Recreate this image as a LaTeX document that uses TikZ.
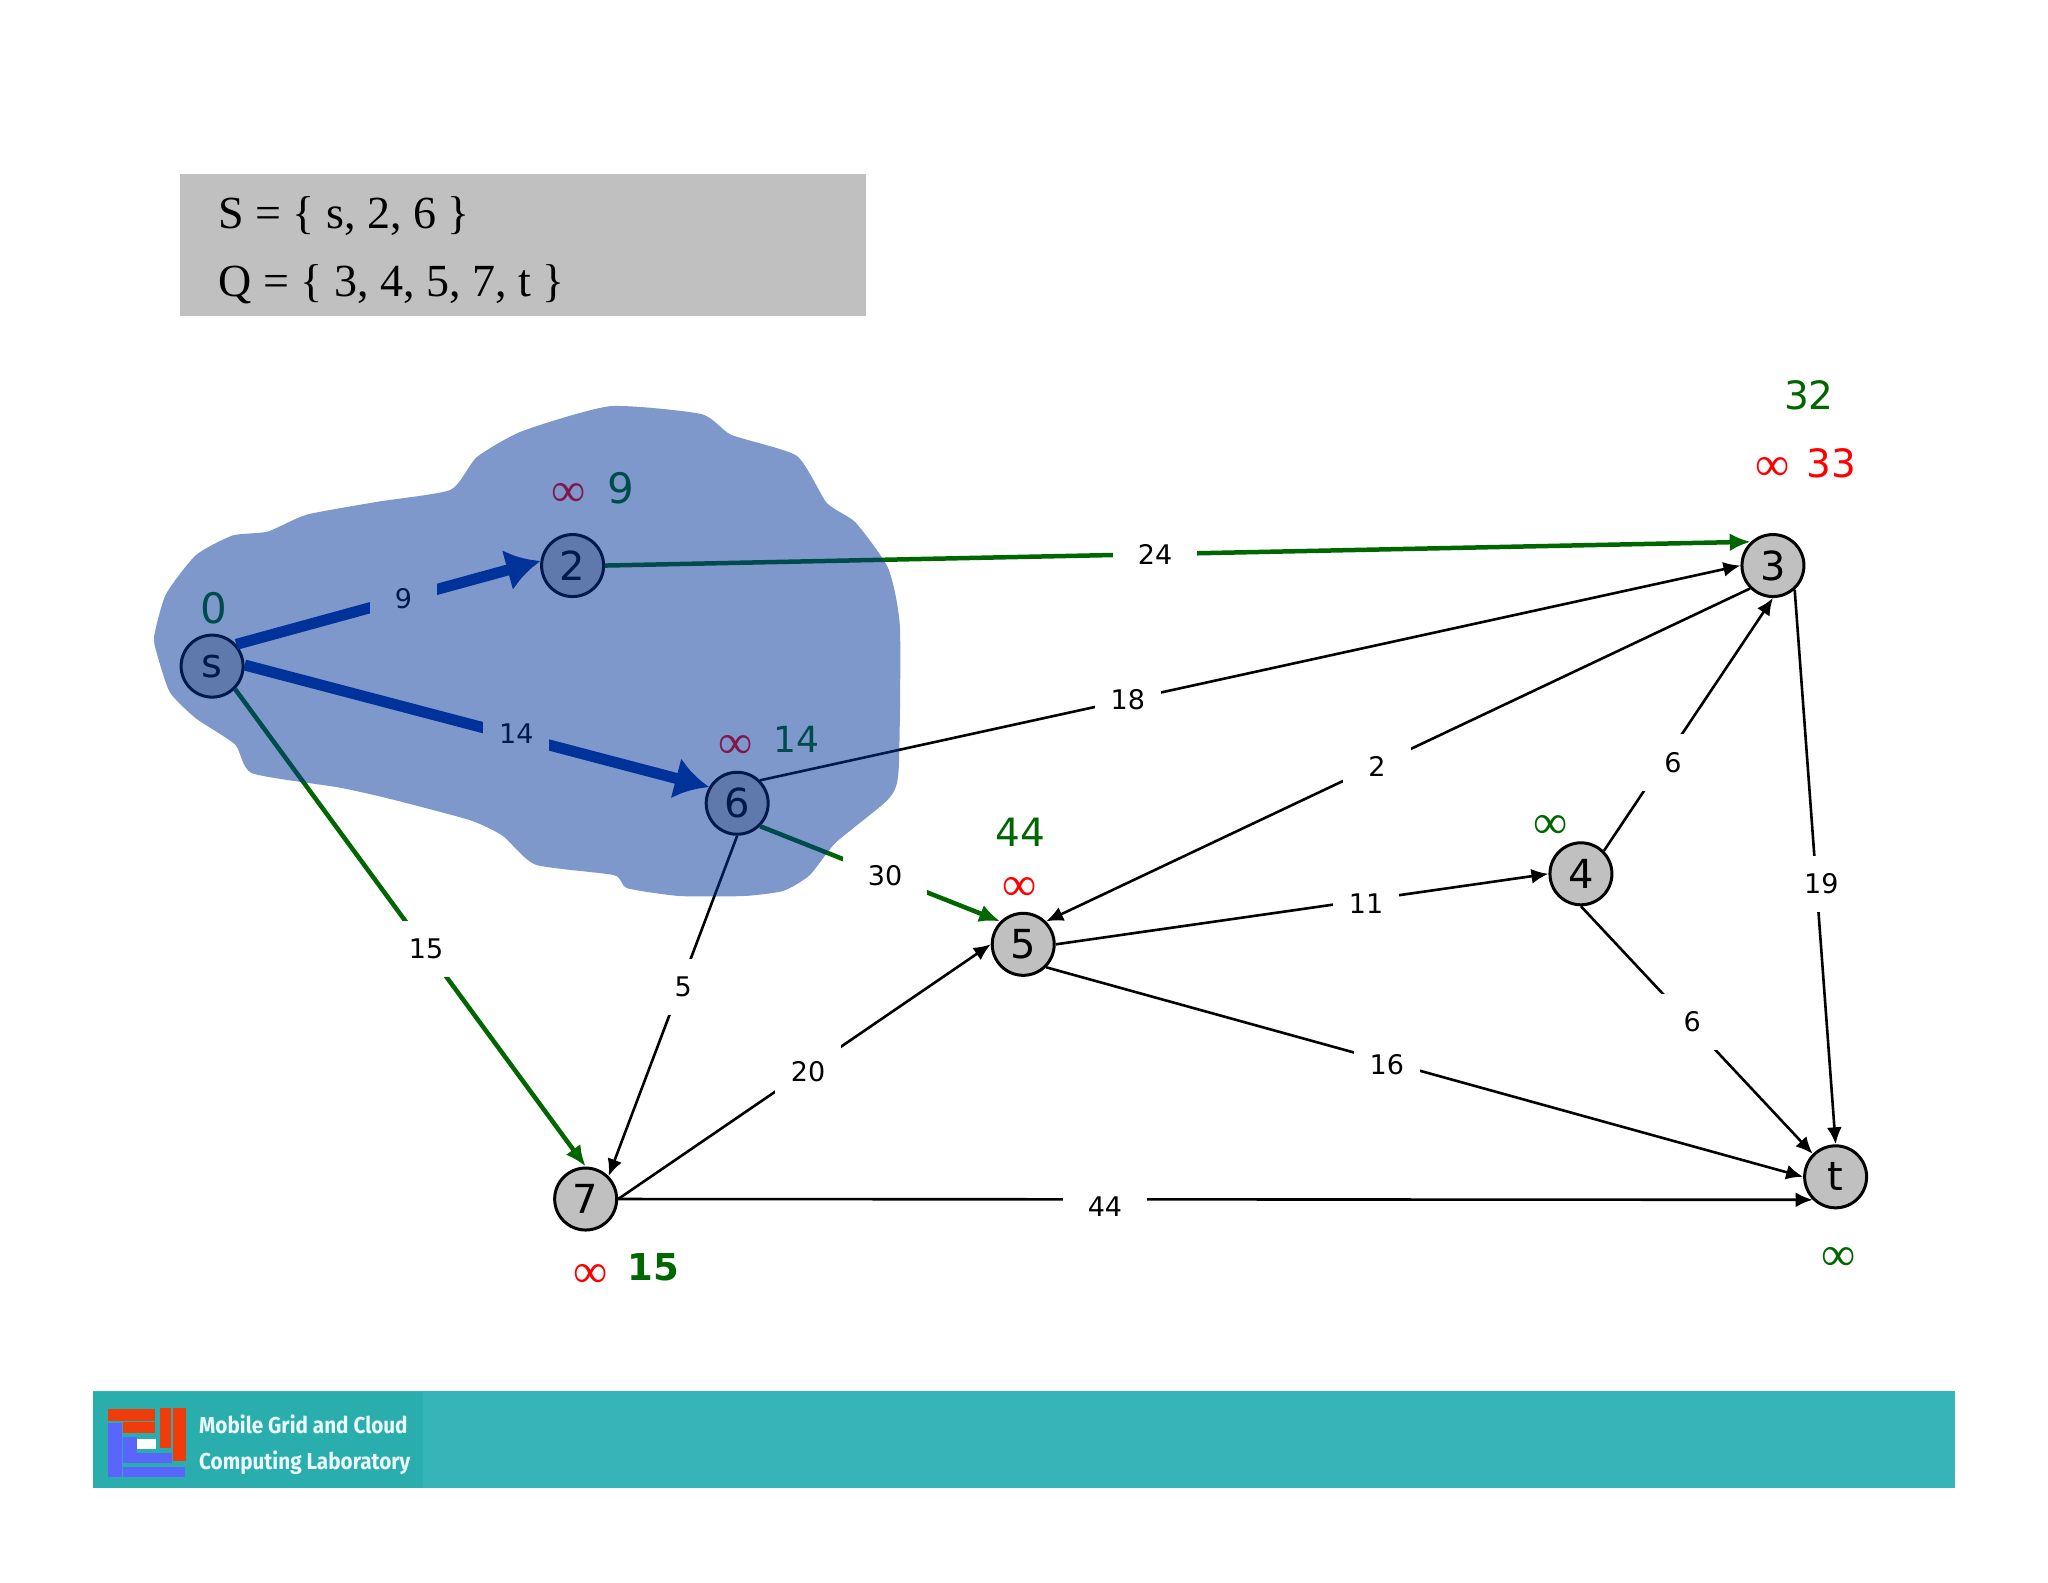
\documentclass[tikz,border=0pt]{standalone}
\usepackage{fontspec}
\setmainfont{DejaVu Sans}
\newfontfamily\serifF{Liberation Serif}
\newfontfamily\logoF[FakeStretch=.9]{Fira Sans}
\usetikzlibrary{arrows.meta}
\definecolor{gn}{HTML}{006600}
\definecolor{bl}{HTML}{003399}
\definecolor{rd}{HTML}{FF0000}
\definecolor{nodegray}{HTML}{C0C0C0}
\definecolor{barteal}{HTML}{36B4B8}
\definecolor{logoteal}{HTML}{2AAEAD}
\definecolor{logored}{HTML}{F03C0A}
\definecolor{logoblue}{HTML}{5A64FF}
\newcommand{\fs}[1]{\fontsize{#1}{#1}\selectfont}
\tikzset{
 vert/.style={circle,draw=black,line width=3pt,fill=nodegray,minimum size=62pt,inner sep=0pt,font=\fs{40}},
 lab/.style={fill=white,font=\fs{27},text=black,inner xsep=25pt,inner ysep=18pt},
 labn/.style={lab,inner xsep=16pt},
 edgeb/.style={draw=black,line width=2.6pt,-{Latex[length=17pt,width=15pt]}},
 edgeg/.style={draw=gn,line width=4.5pt,-{Latex[length=21pt,width=18pt]}},
 edgeu/.style={draw=bl,line width=11pt,-{Latex[length=34pt,width=42pt]}},
 dist/.style={font=\fs{38},inner sep=0pt},
 infy/.style={font=\serifF\fs{48},inner sep=0pt},
 settext/.style={font=\serifF\fs{46},inner sep=0pt,anchor=base west,text=black},
 logot/.style={font=\logoF\bfseries\fs{23},text=white!92!cyan,inner sep=0pt},
}
\begin{document}
\begin{tikzpicture}[x=1.30612pt,y=-1.30612pt]
\useasboundingbox (0,0) rectangle (1568,1211.25);
\fill[white] (0,0) rectangle (1568,1211.25);
% set box
\fill[nodegray] (138,133) rectangle (663,242);
\node[settext] (setS) at (167,175) {S = \{ s, 2, 6 \}};
\node[settext] (setQ) at (167,227) {Q = \{ 3, 4, 5, 7, t \}};
% vertices
\node[vert] (s) at (162.4,510) {s};
\node[vert] (n2) at (438.4,433) {2};
\node[vert] (n6) at (564.4,615) {6};
\node[vert] (n3) at (1357.4,433) {3};
\node[vert] (n5) at (783.4,723) {5};
\node[vert] (n4) at (1210.4,669) {4};
\node[vert] (n7) at (448.4,918) {7};
\node[vert] (t) at (1405.4,901) {t};
% edges
\draw[edgeu] (s.42) -- node[lab,pos=.55] (l9) {9} (n2.172);
\draw[edgeu] (s.2) -- node[labn,pos=.585,yshift=3pt] (l14) {14} (n6.150);
\draw[edgeg] (s.-45) -- node[labn,pos=.545] (l15) {15} (n7.90);
\draw[edgeg] (n2.0) -- node[lab,pos=.48] (l24) {24} (n3.133);
\draw[edgeg] (n6.-45) -- node[lab,pos=.52] (l30) {30} (n5.135);
\draw[edgeb] (n6.45) -- node[labn,pos=.375] (l18) {18} (n3.180);
\draw[edgeb] (n6.270) -- node[lab,pos=.444,xshift=3pt] (l5) {5} (n7.45);
\draw[edgeb] (n3.225) -- node[lab,pos=.53,yshift=-2pt] (l2) {2} (n5.45);
\draw[edgeb] (n4.45) -- node[lab,pos=.35,xshift=10pt] (l6a) {6} (n3.270);
\draw[edgeb] (n3.-48) -- node[labn,pos=.527,xshift=5pt,yshift=-2pt] (l19) {19} (t.90);
\draw[edgeb] (n5.0) -- node[labn,pos=.63,yshift=-4pt] (l11) {11} (n4.180);
\draw[edgeb] (n4.270) -- node[lab,pos=.467,xshift=3pt] (l6b) {6} (t.135);
\draw[edgeb] (n5.-45) -- node[labn,pos=.45,yshift=-3pt] (l16) {16} (t.180);
\draw[edgeb] (n7.0) -- node[lab,pos=.405,xshift=3pt,yshift=-7pt] (l44) {44} (t.225);
\draw[edgeb] (n7.0) -- node[labn,pos=.51,yshift=-3pt] (l20) {20} (n5.180);
% distances
\node[dist,text=gn,font=\fs{42}] (d0) at (164,466) {0};
\node[infy,text=rd] (i2) at (435,379) {∞};
\node[dist,text=gn,font=\fs{42}] (d2) at (475,374) {9};
\node[infy,text=rd] (i6) at (563,572) {∞};
\node[dist,text=gn,font=\fs{36}] (d6) at (610,566) {14};
\node[dist,text=gn,font=\fs{39}] (d5) at (781,637) {44};
\node[infy,text=rd] (i5) at (781,681) {∞};
\node[infy,text=gn] (i4) at (1187,633) {∞};
\node[dist,text=gn,font=\fs{39}] (d3) at (1385,303) {32};
\node[infy,text=rd] (i3) at (1357,359) {∞};
\node[dist,text=rd,font=\fs{39}] (d33) at (1402,355) {33};
\node[infy,text=rd] (i7) at (452,977) {∞};
\node[dist,text=gn,font=\bfseries\fs{37}] (d7) at (500,970) {15};
\node[infy,text=gn] (it) at (1408,964) {∞};
% translucent region
\fill[bl,opacity=.5] plot[smooth cycle,tension=.35] coordinates {
(118,487)(127,455)(150,425)(178,410)(205,407)(235,394)(290,384)(345,375)(365,350)(400,330)(467,311)(537,317)(560,333)(610,349)(633,385)(655,400)(680,435)(689,480)(688,590)(680,612)(640,645)(620,670)(600,682)(570,686)(520,686)(480,680)(470,670)(410,662)(385,640)(360,628)(300,612)(260,603)(193,592)(180,570)(150,550)(130,530)(120,500)};
% footer
\fill[barteal] (71,1065) rectangle (1497,1139);
\begin{scope}[scale=.76562]
\fill[logoteal] (93,1392) rectangle (423,1488);
\fill[logored] (108,1409) rectangle (155,1421);
\fill[logored] (123,1422) rectangle (155,1433);
\fill[logored] (160,1408) rectangle (171,1448);
\fill[logored] (173,1408) rectangle (186,1461);
\fill[logoblue] (108,1423) rectangle (122,1477);
\fill[logoblue] (123,1467) rectangle (185,1477);
\fill[logoblue] (123,1437) rectangle (137,1463);
\fill[logoblue] (123,1453) rectangle (172,1463);
\fill[white] (137,1439) rectangle (156,1449);
\node[logot,anchor=west] (lg1) at (199,1424) {Mobile Grid and Cloud};
\node[logot,anchor=west] (lg2) at (199,1463) {Computing Laboratory};
\end{scope}
\end{tikzpicture}
\end{document}
